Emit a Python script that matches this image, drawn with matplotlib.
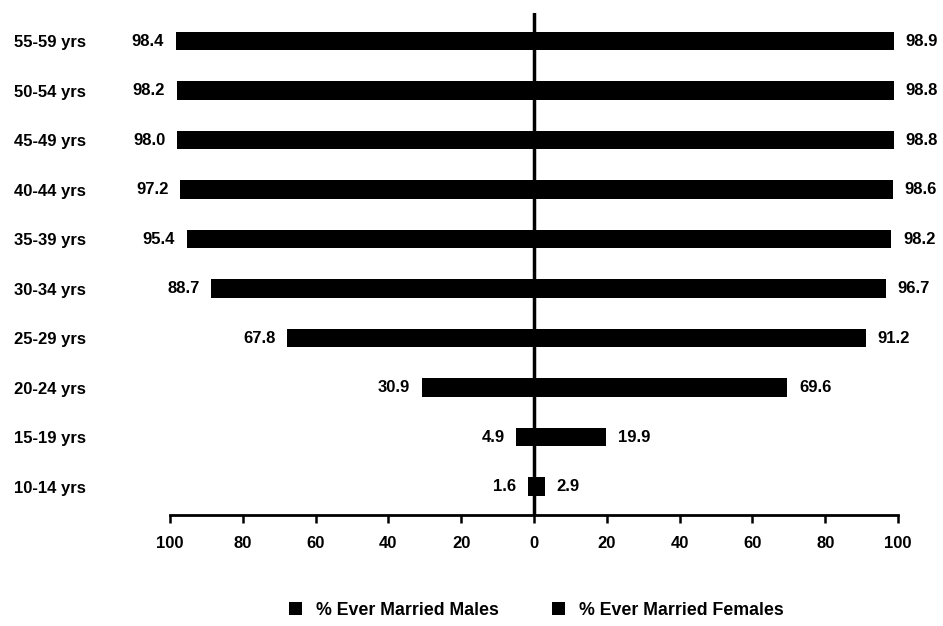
import numpy as np
import matplotlib.pyplot as plt

ages = ['10-14 yrs', '15-19 yrs', '20-24 yrs', '25-29 yrs', '30-34 yrs',
        '35-39 yrs', '40-44 yrs', '45-49 yrs', '50-54 yrs', '55-59 yrs']
males = [1.6, 4.9, 30.9, 67.8, 88.7, 95.4, 97.2, 98.0, 98.2, 98.4]
females = [2.9, 19.9, 69.6, 91.2, 96.7, 98.2, 98.6, 98.8, 98.8, 98.9]
xticks = [-100, -80, -60, -40, -20, 0, 20, 40, 60, 80, 100]

plt.rcParams['font.family'] = ['Liberation Sans', 'DejaVu Sans']

fig = plt.figure(figsize=(9.43, 6.26), dpi=100)
ax = fig.add_axes([0.1803, 0.1773, 0.772, 0.8019])

y = np.arange(len(ages))
ax.barh(y, [-m for m in males], height=0.37, color='black', label='% Ever Married Males')
ax.barh(y, females, height=0.37, color='black', label='% Ever Married Females')

# value labels
for yi, m, f in zip(y, males, females):
    ax.text(-m - 3.2, yi, '%.1f' % m, ha='right', va='center', fontsize=12, fontweight='bold')
    ax.text(f + 3.2, yi, '%.1f' % f, ha='left', va='center', fontsize=12, fontweight='bold')

ax.axvline(0, color='black', lw=2.5)
ax.set_xlim(-100, 100)
ax.set_ylim(-0.576, 9.566)
ax.set_xticks(xticks)
ax.set_xticklabels([str(abs(t)) for t in xticks], fontsize=12, fontweight='bold')
ax.set_yticks(y)
ax.set_yticklabels(ages, fontsize=12, fontweight='bold', ha='left')
ax.tick_params(axis='y', length=0, pad=112)
ax.tick_params(axis='x', length=6, width=1.8, pad=9)

for s in ['left', 'right', 'top']:
    ax.spines[s].set_visible(False)
ax.spines['bottom'].set_linewidth(2)

fig.legend(loc='center', bbox_to_anchor=(0.569, 0.025), ncol=2, frameon=False,
           prop={'size': 12.8, 'weight': 'bold'}, handlelength=0.7, handleheight=0.7,
           columnspacing=3.0, handletextpad=0.8)

fig.savefig('out.png', dpi=100)
